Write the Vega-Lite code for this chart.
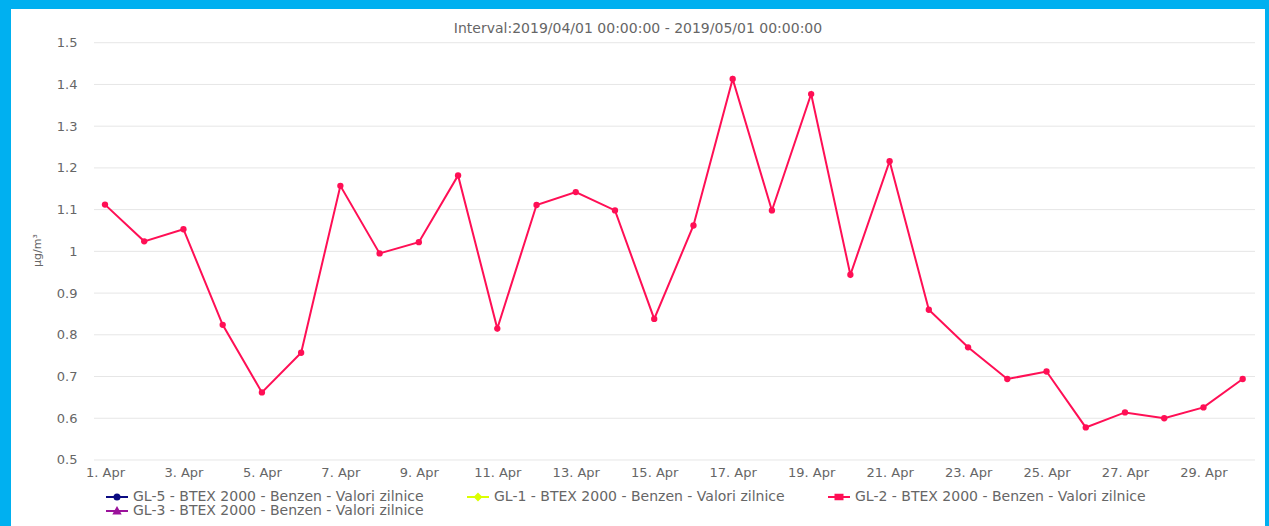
{
  "$schema": "https://vega.github.io/schema/vega-lite/v6.json",
  "autosize": "none",
  "width": 1254,
  "height": 517,
  "padding": {"left": 11, "top": 9, "right": 4, "bottom": 0},
  "background": "#00b0f0",
  "config": {"view": {"fill": "white", "stroke": null}, "font": "DejaVu Sans"},
  "title": {
    "text": "Interval:2019/04/01 00:00:00 - 2019/05/01 00:00:00",
    "anchor": "middle",
    "frame": "group",
    "orient": "top",
    "offset": -38,
    "baseline": "alphabetic",
    "fontSize": 14,
    "fontWeight": "normal",
    "color": "#666666"
  },
  "layer": [
    {
      "data": {"values": [
        {"level": 0.5}, {"level": 0.6}, {"level": 0.7}, {"level": 0.8}, {"level": 0.9}, {"level": 1.0},
        {"level": 1.1}, {"level": 1.2}, {"level": 1.3}, {"level": 1.4}, {"level": 1.5}
      ]},
      "mark": {"type": "rule", "color": "#e6e6e6", "strokeWidth": 1},
      "encoding": {
        "y": {"field": "level", "type": "quantitative", "scale": {"domain": [0.3418, 1.5808]}},
        "x": {"datum": {"year": 2019, "month": "Mar", "date": 31, "hours": 17, "minutes": 16, "utc": true}, "type": "temporal",
              "scale": {"type": "utc", "domain": [{"year": 2019, "month": "Mar", "date": 29, "hours": 14, "minutes": 30, "utc": true}, {"year": 2019, "month": "Apr", "date": 30, "hours": 13, "minutes": 39, "utc": true}]},
              "axis": {
                "orient": "bottom", "offset": -65.6, "title": null, "grid": false, "domain": false, "ticks": false, "tickSize": 0,
                "values": [
                  {"year": 2019, "month": "Apr", "date": 1, "utc": true}, {"year": 2019, "month": "Apr", "date": 3, "utc": true},
                  {"year": 2019, "month": "Apr", "date": 5, "utc": true}, {"year": 2019, "month": "Apr", "date": 7, "utc": true},
                  {"year": 2019, "month": "Apr", "date": 9, "utc": true}, {"year": 2019, "month": "Apr", "date": 11, "utc": true},
                  {"year": 2019, "month": "Apr", "date": 13, "utc": true}, {"year": 2019, "month": "Apr", "date": 15, "utc": true},
                  {"year": 2019, "month": "Apr", "date": 17, "utc": true}, {"year": 2019, "month": "Apr", "date": 19, "utc": true},
                  {"year": 2019, "month": "Apr", "date": 21, "utc": true}, {"year": 2019, "month": "Apr", "date": 23, "utc": true},
                  {"year": 2019, "month": "Apr", "date": 25, "utc": true}, {"year": 2019, "month": "Apr", "date": 27, "utc": true},
                  {"year": 2019, "month": "Apr", "date": 29, "utc": true}
                ],
                "labelExpr": "utcFormat(datum.value, '%-d. %b')",
                "labelPadding": 6, "labelFontSize": 13, "labelColor": "#666666", "labelFlush": false, "labelOverlap": false
              }},
        "x2": {"datum": {"year": 2019, "month": "Apr", "date": 30, "hours": 7, "minutes": 32, "utc": true}}
      }
    },
    {
      "data": {"values": [
        {"date": "2019-04-01", "series": "GL-2 - BTEX 2000 - Benzen - Valori zilnice", "value": 1.112},
        {"date": "2019-04-02", "series": "GL-2 - BTEX 2000 - Benzen - Valori zilnice", "value": 1.024},
        {"date": "2019-04-03", "series": "GL-2 - BTEX 2000 - Benzen - Valori zilnice", "value": 1.053},
        {"date": "2019-04-04", "series": "GL-2 - BTEX 2000 - Benzen - Valori zilnice", "value": 0.824},
        {"date": "2019-04-05", "series": "GL-2 - BTEX 2000 - Benzen - Valori zilnice", "value": 0.662},
        {"date": "2019-04-06", "series": "GL-2 - BTEX 2000 - Benzen - Valori zilnice", "value": 0.757},
        {"date": "2019-04-07", "series": "GL-2 - BTEX 2000 - Benzen - Valori zilnice", "value": 1.157},
        {"date": "2019-04-08", "series": "GL-2 - BTEX 2000 - Benzen - Valori zilnice", "value": 0.995},
        {"date": "2019-04-09", "series": "GL-2 - BTEX 2000 - Benzen - Valori zilnice", "value": 1.022},
        {"date": "2019-04-10", "series": "GL-2 - BTEX 2000 - Benzen - Valori zilnice", "value": 1.182},
        {"date": "2019-04-11", "series": "GL-2 - BTEX 2000 - Benzen - Valori zilnice", "value": 0.815},
        {"date": "2019-04-12", "series": "GL-2 - BTEX 2000 - Benzen - Valori zilnice", "value": 1.111},
        {"date": "2019-04-13", "series": "GL-2 - BTEX 2000 - Benzen - Valori zilnice", "value": 1.142},
        {"date": "2019-04-14", "series": "GL-2 - BTEX 2000 - Benzen - Valori zilnice", "value": 1.098},
        {"date": "2019-04-15", "series": "GL-2 - BTEX 2000 - Benzen - Valori zilnice", "value": 0.838},
        {"date": "2019-04-16", "series": "GL-2 - BTEX 2000 - Benzen - Valori zilnice", "value": 1.062},
        {"date": "2019-04-17", "series": "GL-2 - BTEX 2000 - Benzen - Valori zilnice", "value": 1.413},
        {"date": "2019-04-18", "series": "GL-2 - BTEX 2000 - Benzen - Valori zilnice", "value": 1.098},
        {"date": "2019-04-19", "series": "GL-2 - BTEX 2000 - Benzen - Valori zilnice", "value": 1.377},
        {"date": "2019-04-20", "series": "GL-2 - BTEX 2000 - Benzen - Valori zilnice", "value": 0.944},
        {"date": "2019-04-21", "series": "GL-2 - BTEX 2000 - Benzen - Valori zilnice", "value": 1.216},
        {"date": "2019-04-22", "series": "GL-2 - BTEX 2000 - Benzen - Valori zilnice", "value": 0.860},
        {"date": "2019-04-23", "series": "GL-2 - BTEX 2000 - Benzen - Valori zilnice", "value": 0.770},
        {"date": "2019-04-24", "series": "GL-2 - BTEX 2000 - Benzen - Valori zilnice", "value": 0.694},
        {"date": "2019-04-25", "series": "GL-2 - BTEX 2000 - Benzen - Valori zilnice", "value": 0.712},
        {"date": "2019-04-26", "series": "GL-2 - BTEX 2000 - Benzen - Valori zilnice", "value": 0.578},
        {"date": "2019-04-27", "series": "GL-2 - BTEX 2000 - Benzen - Valori zilnice", "value": 0.614},
        {"date": "2019-04-28", "series": "GL-2 - BTEX 2000 - Benzen - Valori zilnice", "value": 0.600},
        {"date": "2019-04-29", "series": "GL-2 - BTEX 2000 - Benzen - Valori zilnice", "value": 0.626},
        {"date": "2019-04-30", "series": "GL-2 - BTEX 2000 - Benzen - Valori zilnice", "value": 0.694}
      ]},
      "encoding": {
        "x": {"field": "date", "type": "temporal",
              "scale": {"type": "utc", "domain": [{"year": 2019, "month": "Mar", "date": 29, "hours": 14, "minutes": 30, "utc": true}, {"year": 2019, "month": "Apr", "date": 30, "hours": 13, "minutes": 39, "utc": true}]},
              "axis": {
                "orient": "bottom", "offset": -65.6, "title": null, "grid": false, "domain": false, "ticks": false, "tickSize": 0,
                "values": [
                  {"year": 2019, "month": "Apr", "date": 1, "utc": true}, {"year": 2019, "month": "Apr", "date": 3, "utc": true},
                  {"year": 2019, "month": "Apr", "date": 5, "utc": true}, {"year": 2019, "month": "Apr", "date": 7, "utc": true},
                  {"year": 2019, "month": "Apr", "date": 9, "utc": true}, {"year": 2019, "month": "Apr", "date": 11, "utc": true},
                  {"year": 2019, "month": "Apr", "date": 13, "utc": true}, {"year": 2019, "month": "Apr", "date": 15, "utc": true},
                  {"year": 2019, "month": "Apr", "date": 17, "utc": true}, {"year": 2019, "month": "Apr", "date": 19, "utc": true},
                  {"year": 2019, "month": "Apr", "date": 21, "utc": true}, {"year": 2019, "month": "Apr", "date": 23, "utc": true},
                  {"year": 2019, "month": "Apr", "date": 25, "utc": true}, {"year": 2019, "month": "Apr", "date": 27, "utc": true},
                  {"year": 2019, "month": "Apr", "date": 29, "utc": true}
                ],
                "labelExpr": "utcFormat(datum.value, '%-d. %b')",
                "labelPadding": 6, "labelFontSize": 13, "labelColor": "#666666", "labelFlush": false, "labelOverlap": false
              }},
        "y": {"field": "value", "type": "quantitative",
              "scale": {"domain": [0.3418, 1.5808]},
              "axis": {
                "orient": "left", "offset": -66, "grid": false, "domain": false, "ticks": false, "tickSize": 0,
                "values": [0.5, 0.6, 0.7, 0.8, 0.9, 1.0, 1.1, 1.2, 1.3, 1.4, 1.5],
                "format": ".2~f", "labelPadding": 0, "labelFontSize": 13, "labelColor": "#666666", "labelFlush": false,
                "title": "µg/m³", "titleX": -40, "titleY": 241, "titleAngle": -90, "titleAlign": "center", "titleBaseline": "middle",
                "titleFontSize": 11, "titleFontWeight": "normal", "titleColor": "#666666"
              }},
        "color": {"field": "series", "type": "nominal",
                  "scale": {
                    "domain": ["GL-5 - BTEX 2000 - Benzen - Valori zilnice", "GL-1 - BTEX 2000 - Benzen - Valori zilnice", "GL-2 - BTEX 2000 - Benzen - Valori zilnice", "GL-3 - BTEX 2000 - Benzen - Valori zilnice"],
                    "range": ["#0b0b82", "#dcff00", "#ff0f55", "#9b129b"]
                  },
                  "legend": {
                    "orient": "none", "legendX": 93, "legendY": 481, "title": null, "direction": "horizontal", "columns": 3, "columnPadding": 39, "rowPadding": -4,
                    "padding": 0, "symbolSize": 100, "labelFontSize": 14, "labelColor": "#666666", "labelOffset": 15, "labelLimit": 600,
                    "encode": {"symbols": {"update": {
                      "shape": {"signal": "['M-1,0H3.4M0.7,0A0.5,0.5,0,1,1,1.7,0A0.5,0.5,0,1,1,0.7,0Z','M-1,0H3.4M1.2,-0.6L1.8,0L1.2,0.6L0.6,0Z','M-1,0H3.4M0.5,-0.45H1.9V0.45H0.5Z','M-1,0H3.4M1.2,-0.6L1.8,0.5H0.6Z'][datum.index]"},
                      "fill": {"scale": "color", "field": "value"},
                      "stroke": {"scale": "color", "field": "value"},
                      "strokeWidth": {"value": 2},
                      "opacity": {"value": 1},
                      "size": {"value": 100}
                    }}}
                  }}
      },
      "layer": [
        {"mark": {"type": "line", "strokeWidth": 2}},
        {"mark": {"type": "point", "filled": true, "size": 40, "opacity": 1}}
      ]
    }
  ]
}
